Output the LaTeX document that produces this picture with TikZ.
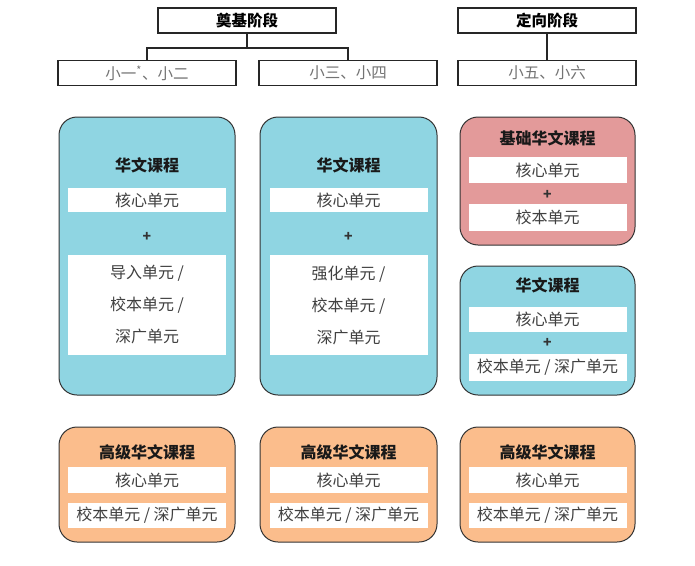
\documentclass[tikz,border=0pt]{standalone}
\usepackage{fontspec}
\setmainfont{Noto Sans CJK SC}
\definecolor{courseblue}{RGB}{143,213,226}
\definecolor{coursered}{RGB}{227,154,154}
\definecolor{courseorange}{RGB}{251,189,140}
\definecolor{unitgray}{RGB}{64,64,64}
\tikzset{
	stagebox/.style={draw=black!85, line width=1.6pt, minimum width=178pt, minimum height=25pt, inner sep=0pt, font=\bfseries\fontsize{15.5}{18}\selectfont},
	gradebox/.style={stagebox, font=\fontsize{15.5}{18}\selectfont, text=black!55},
	coursebox/.style={draw=black!80, line width=1pt, rounded corners=18pt, inner sep=0pt},
	coursetitle/.style={inner sep=0pt, font=\bfseries\fontsize{16}{18}\selectfont, text=black!90},
	unitbox/.style={fill=white, minimum width=158pt, inner sep=0pt, text=unitgray, font=\fontsize{16}{18}\selectfont},
	plussign/.style={inner sep=0pt, text=black!80, font=\bfseries\fontsize{14}{16}\selectfont},
}
\begin{document}
\begin{tikzpicture}[x=1pt, y=-1pt]
			\useasboundingbox (0,0) rectangle (695,565);
			%%%%% STAGES %%%%%
			\node[stagebox] (found) at (247,20.5) {奠基阶段};
			\node[stagebox] (orient) at (547,20.5) {定向阶段};
			
			\node[gradebox] (p12) at (147,73) {小一\textsuperscript{*}、小二};
			\node[gradebox] (p34) at (348,73) {小三、小四};
			\node[gradebox] (p56) at (547,73) {小五、小六};
			
			\coordinate (fork) at (247,48);
			\draw[line width=1.5pt, black!85] (found) -- (fork) -| (p12);
			\draw[line width=1.5pt, black!85] (fork) -| (p34);
			\draw[line width=1.5pt, black!85] (orient) -- (p56);
			
			%%%%% COLUMN 1 %%%%%
			\node[coursebox, fill=courseblue, minimum width=176pt, minimum height=278pt] (hw1) at (147,256) {};
			\node[coursetitle] (hw1t) at (147,165) {华文课程};
			\node[unitbox, minimum height=24pt] (hw1a) at (147,200) {核心单元};
			\node[plussign] (hw1p) at (147,237) {+};
			\node[unitbox, minimum height=100pt, align=center, font=\fontsize{16}{32}\selectfont] (hw1b) at (147,305) {导入单元 /\\校本单元 /\\深广单元};
			
			\node[coursebox, fill=courseorange, minimum width=176pt, minimum height=115pt] (adv1) at (147,484.5) {};
			\node[coursetitle] (adv1t) at (147,452) {高级华文课程};
			\node[unitbox, minimum height=26pt] (adv1a) at (147,480) {核心单元};
			\node[unitbox, minimum height=25pt] (adv1b) at (147,515.5) {校本单元 / 深广单元};
			
			%%%%% COLUMN 2 %%%%%
			\node[coursebox, fill=courseblue, minimum width=177pt, minimum height=278pt] (hw2) at (348.5,256) {};
			\node[coursetitle] (hw2t) at (348.5,165) {华文课程};
			\node[unitbox, minimum height=24pt] (hw2a) at (348.5,200) {核心单元};
			\node[plussign] (hw2p) at (348.5,237) {+};
			\node[unitbox, minimum height=100pt, align=center, font=\fontsize{16}{32}\selectfont] (hw2b) at (348.5,305) {强化单元 /\\校本单元 /\\深广单元};
			
			\node[coursebox, fill=courseorange, minimum width=177pt, minimum height=115pt] (adv2) at (348.5,484.5) {};
			\node[coursetitle] (adv2t) at (348.5,452) {高级华文课程};
			\node[unitbox, minimum height=26pt] (adv2a) at (348.5,480) {核心单元};
			\node[unitbox, minimum height=25pt] (adv2b) at (348.5,515.5) {校本单元 / 深广单元};
			
			%%%%% COLUMN 3 %%%%%
			\node[coursebox, fill=coursered, minimum width=175pt, minimum height=128pt] (base3) at (547.5,181) {};
			\node[coursetitle] (base3t) at (547.5,138) {基础华文课程};
			\node[unitbox, minimum height=26pt] (base3a) at (547.5,170) {核心单元};
			\node[plussign] (base3p) at (547.5,195) {+};
			\node[unitbox, minimum height=27pt] (base3b) at (547.5,217.5) {校本单元};
			
			\node[coursebox, fill=courseblue, minimum width=175pt, minimum height=129pt] (hw3) at (547.5,330.5) {};
			\node[coursetitle] (hw3t) at (547.5,285) {华文课程};
			\node[unitbox, minimum height=25pt] (hw3a) at (547.5,319.5) {核心单元};
			\node[plussign] (hw3p) at (547.5,343) {+};
			\node[unitbox, minimum height=27pt] (hw3b) at (547.5,367.5) {校本单元 / 深广单元};
			
			\node[coursebox, fill=courseorange, minimum width=175pt, minimum height=115pt] (adv3) at (547.5,484.5) {};
			\node[coursetitle] (adv3t) at (547.5,452) {高级华文课程};
			\node[unitbox, minimum height=26pt] (adv3a) at (547.5,480) {核心单元};
			\node[unitbox, minimum height=25pt] (adv3b) at (547.5,515.5) {校本单元 / 深广单元};
\end{tikzpicture}
\end{document}
